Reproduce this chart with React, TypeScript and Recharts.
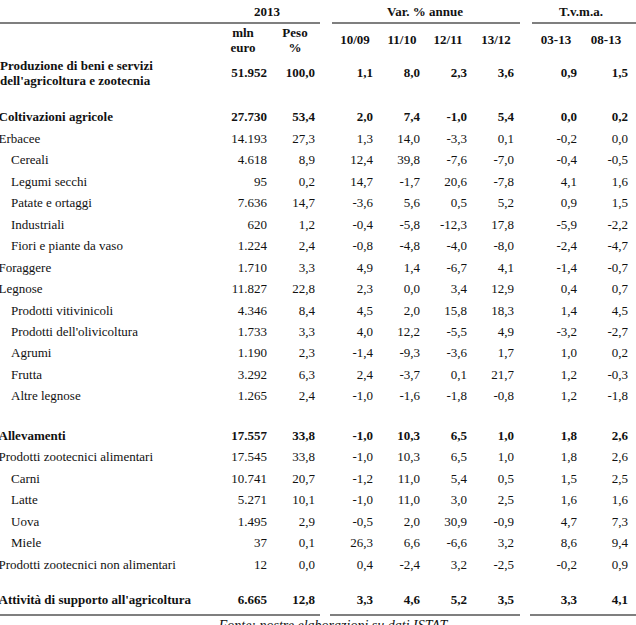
import { ScatterChart, Scatter, XAxis, YAxis, ReferenceLine } from "recharts";

// --- dati della tabella ---
const labels = [
    "Produzione di beni e servizi\ndell'agricoltura e zootecnia",
    "Coltivazioni agricole",
    "Erbacee",
    "Cereali",
    "Legumi secchi",
    "Patate e ortaggi",
    "Industriali",
    "Fiori e piante da vaso",
    "Foraggere",
    "Legnose",
    "Prodotti vitivinicoli",
    "Prodotti dell'olivicoltura",
    "Agrumi",
    "Frutta",
    "Altre legnose",
    "Allevamenti",
    "Prodotti zootecnici alimentari",
    "Carni",
    "Latte",
    "Uova",
    "Miele",
    "Prodotti zootecnici non alimentari",
    "Attività di supporto all'agricoltura",
];
const levels = [0, 0, 0, 1, 1, 1, 1, 1, 0, 0, 1, 1, 1, 1, 1, 0, 0, 1, 1, 1, 1, 0, 0];
const boldRows = [0, 1, 15, 22];

const mlnEuro = [51952, 27730, 14193, 4618, 95, 7636, 620, 1224, 1710, 11827, 4346, 1733, 1190, 3292, 1265, 17557, 17545, 10741, 5271, 1495, 37, 12, 6665];
const peso = [100.0, 53.4, 27.3, 8.9, 0.2, 14.7, 1.2, 2.4, 3.3, 22.8, 8.4, 3.3, 2.3, 6.3, 2.4, 33.8, 33.8, 20.7, 10.1, 2.9, 0.1, 0.0, 12.8];
const var1009 = [1.1, 2.0, 1.3, 12.4, 14.7, -3.6, -0.4, -0.8, 4.9, 2.3, 4.5, 4.0, -1.4, 2.4, -1.0, -1.0, -1.0, -1.2, -1.0, -0.5, 26.3, 0.4, 3.3];
const var1110 = [8.0, 7.4, 14.0, 39.8, -1.7, 5.6, -5.8, -4.8, 1.4, 0.0, 2.0, 12.2, -9.3, -3.7, -1.6, 10.3, 10.3, 11.0, 11.0, 2.0, 6.6, -2.4, 4.6];
const var1211 = [2.3, -1.0, -3.3, -7.6, 20.6, 0.5, -12.3, -4.0, -6.7, 3.4, 15.8, -5.5, -3.6, 0.1, -1.8, 6.5, 6.5, 5.4, 3.0, 30.9, -6.6, 3.2, 5.2];
const var1312 = [3.6, 5.4, 0.1, -7.0, -7.8, 5.2, 17.8, -8.0, 4.1, 12.9, 18.3, 4.9, 1.7, 21.7, -0.8, 1.0, 1.0, 0.5, 2.5, -0.9, 3.2, -2.5, 3.5];
const tvma0313 = [0.9, 0.0, -0.2, -0.4, 4.1, 0.9, -5.9, -2.4, -1.4, 0.4, 1.4, -3.2, 1.0, 1.2, 1.2, 1.8, 1.8, 1.5, 1.6, 4.7, 8.6, -0.2, 3.3];
const tvma0813 = [1.5, 0.2, 0.0, -0.5, 1.6, 1.5, -2.2, -4.7, -0.7, 0.7, 4.5, -2.7, 0.2, -0.3, -1.8, 2.6, 2.6, 2.5, 1.6, 7.3, 9.4, 0.9, 4.1];

const colHeaders = ["mln\neuro", "Peso\n%", "10/09", "11/10", "12/11", "13/12", "03-13", "08-13"];
const groupHeaders = ["2013", "Var. % annue", "T.v.m.a."];
const footer = "Fonte: nostre elaborazioni su dati ISTAT";

// --- layout ---
const W = 636;
const H = 625;
const FONT = "'Liberation Serif', 'Times New Roman', serif";
const COL_RIGHT = [267, 315, 373, 420, 467, 514, 577, 628];
const HEAD_X = [243, 295, 355, 402, 448, 496, 556, 606];
const GROUP_X = [267, 425, 581];
const TOP_RULES = [[0, 320], [332, 520], [532, 636]];
const BOTTOM_RULES = [[0, 320], [330, 520], [530, 636]];
const GAP_BEFORE: Record<number, number> = { 15: 18, 22: 14 };

const rowY = (i: number) => {
    if (i === 0) return 73;
    let y = 117 + (i - 1) * 21.5;
    Object.keys(GAP_BEFORE).forEach((k) => {
        if (i >= Number(k)) y += GAP_BEFORE[Number(k)];
    });
    return y;
};

const fmtInt = (v: number) => String(v).replace(/\B(?=(\d{3})+(?!\d))/g, ".");
const fmtDec = (v: number) => v.toFixed(1).replace(".", ",");

const columns = [mlnEuro, peso, var1009, var1110, var1211, var1312, tvma0313, tvma0813];

const CellText = (props: any) => {
    const { cx, cy, payload } = props;
    const lines = String(payload.text).split("\n");
    const step = 15;
    const start = -((lines.length - 1) * step) / 2;
    const x = cx + (payload.dx || 0);
    return (
        <text
            x={x}
            y={cy}
            textAnchor={payload.anchor}
            fontFamily={FONT}
            fontSize={payload.size || 13}
            fontWeight={payload.bold ? "bold" : "normal"}
            fontStyle={payload.italic ? "italic" : "normal"}
            fill="#111"
        >
            {lines.map((l, k) => (
                <tspan key={k} x={x} y={cy + start + k * step} dominantBaseline="central">
                    {l}
                </tspan>
            ))}
        </text>
    );
};

export default function App() {
    const labelData = labels.map((t, i) => ({
        x: levels[i] === 0 ? 0 : 11,
        y: rowY(i),
        text: t,
        bold: boldRows.includes(i),
        anchor: "start",
        dx: levels[i] === 0 && i > 0 ? -1.5 : 0,
    }));

    const valueData = columns.map((vals, c) =>
        vals.map((v, i) => ({
            x: COL_RIGHT[c],
            y: rowY(i),
            text: c === 0 ? fmtInt(v) : fmtDec(v),
            bold: boldRows.includes(i),
            anchor: "end",
        }))
    );

    const headerData = colHeaders.map((t, c) => ({
        x: HEAD_X[c],
        y: c < 2 ? 40.5 : 40,
        text: t,
        bold: true,
        anchor: "middle",
    }));

    const groupData = groupHeaders.map((t, g) => ({
        x: GROUP_X[g],
        y: 12,
        text: t,
        bold: true,
        anchor: "middle",
    }));

    // nota a piè di tabella (tagliata dal bordo inferiore come nell'originale)
    const footerData = [{ x: 333, y: 626, text: footer, italic: true, anchor: "middle", size: 14 }];

    return (
        <div style={{ position: "absolute", left: 0, top: 0, width: W, height: H, background: "#fff" }}>
            <ScatterChart width={W} height={H} margin={{ top: 0, right: 0, bottom: 0, left: 0 }}>
                <XAxis type="number" dataKey="x" domain={[0, W]} hide />
                <YAxis type="number" dataKey="y" domain={[0, H]} reversed hide />
                {TOP_RULES.map(([a, b], k) => (
                    <ReferenceLine
                        key={`t${k}`}
                        segment={[{ x: a, y: 23 }, { x: b, y: 23 }]}
                        stroke="#555"
                        strokeWidth={1.5}
                        ifOverflow="visible"
                    />
                ))}
                {BOTTOM_RULES.map(([a, b], k) => (
                    <ReferenceLine
                        key={`b${k}`}
                        segment={[{ x: a, y: 616 }, { x: b, y: 616 }]}
                        stroke="#555"
                        strokeWidth={1.5}
                        ifOverflow="visible"
                    />
                ))}
                <Scatter data={groupData} shape={CellText} isAnimationActive={false} />
                <Scatter data={headerData} shape={CellText} isAnimationActive={false} />
                <Scatter data={labelData} shape={CellText} isAnimationActive={false} />
                {valueData.map((d, c) => (
                    <Scatter key={c} data={d} shape={CellText} isAnimationActive={false} />
                ))}
                <Scatter data={footerData} shape={CellText} isAnimationActive={false} />
            </ScatterChart>
        </div>
    );
}
